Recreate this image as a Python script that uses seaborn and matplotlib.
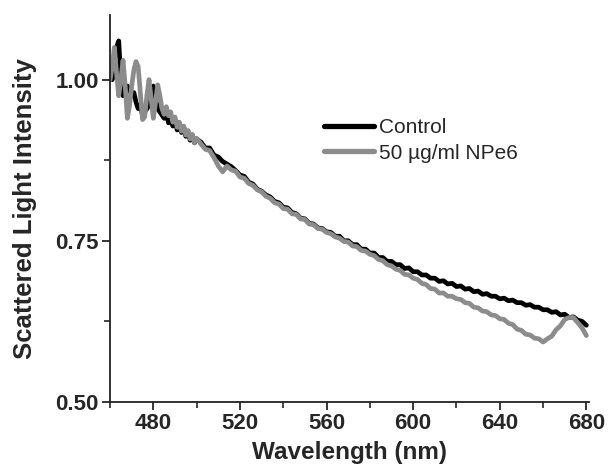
import numpy as np
import pandas as pd
import matplotlib
matplotlib.use("Agg")
import matplotlib.pyplot as plt
import seaborn as sns

# Wavelength grid (nm): 1 nm steps in the noisy blue end, 2 nm afterwards
wavelength = np.concatenate([np.arange(460, 501), np.arange(502, 681, 2)])

control = [
    1.020, 1.000, 1.030, 1.050, 1.060, 1.000, 0.975, 0.980, 0.990, 0.985,
    0.975, 0.980, 0.965, 0.955, 0.960, 0.945, 0.950, 0.955, 0.960, 0.975,
    0.990, 0.970, 0.955, 0.950, 0.945, 0.940, 0.948, 0.933, 0.942, 0.928,
    0.937, 0.922, 0.932, 0.918, 0.927, 0.912, 0.920, 0.906, 0.914, 0.902,
    0.908,
    0.903, 0.894, 0.894, 0.883, 0.880, 0.873, 0.869, 0.865, 0.859, 0.852,
    0.850, 0.841, 0.838, 0.830, 0.827, 0.821, 0.818, 0.811, 0.809, 0.802,
    0.801, 0.794, 0.792, 0.785, 0.784, 0.777, 0.776, 0.770, 0.769, 0.764,
    0.763, 0.757, 0.757, 0.750, 0.750, 0.744, 0.744, 0.737, 0.737, 0.731,
    0.731, 0.724, 0.724, 0.718, 0.718, 0.713, 0.713, 0.707, 0.708, 0.702,
    0.702, 0.697, 0.697, 0.692, 0.692, 0.687, 0.688, 0.683, 0.684, 0.679,
    0.680, 0.675, 0.676, 0.671, 0.672, 0.667, 0.668, 0.664, 0.664, 0.660,
    0.661, 0.657, 0.658, 0.654, 0.654, 0.650, 0.651, 0.647, 0.647, 0.643,
    0.643, 0.639, 0.640, 0.635, 0.636, 0.631, 0.632, 0.627, 0.625, 0.619,
]

npe6 = [
    1.000, 1.020, 1.050, 1.010, 0.975, 1.000, 1.030, 0.990, 0.940, 0.960,
    0.990, 1.015, 1.028, 1.020, 0.980, 0.938, 0.942, 0.975, 1.000, 0.970,
    0.940, 0.965, 0.992, 0.975, 0.955, 0.946, 0.958, 0.944, 0.950, 0.934,
    0.942, 0.926, 0.934, 0.920, 0.928, 0.914, 0.921, 0.908, 0.915, 0.902,
    0.909,
    0.900, 0.892, 0.890, 0.879, 0.866, 0.857, 0.866, 0.860, 0.858, 0.849,
    0.847, 0.839, 0.836, 0.829, 0.826, 0.819, 0.816, 0.809, 0.807, 0.800,
    0.799, 0.792, 0.791, 0.784, 0.783, 0.776, 0.775, 0.769, 0.768, 0.763,
    0.761, 0.756, 0.754, 0.749, 0.748, 0.742, 0.741, 0.735, 0.734, 0.729,
    0.727, 0.721, 0.719, 0.713, 0.711, 0.706, 0.704, 0.698, 0.697, 0.692,
    0.690, 0.684, 0.682, 0.676, 0.675, 0.669, 0.669, 0.664, 0.664, 0.660,
    0.659, 0.654, 0.653, 0.647, 0.646, 0.641, 0.640, 0.635, 0.634, 0.629,
    0.628, 0.622, 0.620, 0.613, 0.611, 0.605, 0.604, 0.599, 0.598, 0.593,
    0.598, 0.602, 0.612, 0.618, 0.628, 0.631, 0.631, 0.623, 0.615, 0.603,
]

series_names = ["Control", "50 \u00b5g/ml NPe6"]
x_ticks = [480, 520, 560, 600, 640, 680]
y_ticks = [0.50, 0.75, 1.00]

df = pd.concat([
    pd.DataFrame({"wl": wavelength, "val": control, "series": series_names[0]}),
    pd.DataFrame({"wl": wavelength, "val": npe6, "series": series_names[1]}),
])

sns.set_style("ticks")
plt.rcParams["font.family"] = ["Liberation Sans", "DejaVu Sans"]

fig = plt.figure(figsize=(6.08, 4.74), dpi=100)
ax = fig.add_axes([0.181, 0.152, 0.787, 0.816])

sns.lineplot(data=df, x="wl", y="val", hue="series",
             palette={series_names[0]: "#000000", series_names[1]: "#8c8c8c"},
             linewidth=3.4, ax=ax, estimator=None, sort=False)

ax.set_xlim(460, 681)
ax.set_ylim(0.50, 1.10)
ax.set_xticks(x_ticks)
ax.set_xticks([460, 500, 540, 580, 620, 660], minor=True)
ax.set_yticks(y_ticks)
ax.set_yticks([0.625, 0.875], minor=True)
ax.set_yticklabels([f"{v:.2f}" for v in y_ticks])

for s in ["top", "right"]:
    ax.spines[s].set_visible(False)
for s in ["left", "bottom"]:
    ax.spines[s].set_linewidth(1.3)
    ax.spines[s].set_color("#222222")

ax.tick_params(axis="both", which="major", direction="out", length=6, width=1.3,
               labelsize=16, pad=2)
ax.tick_params(axis="both", which="minor", direction="out", length=4, width=1.2)
for lab in ax.get_xticklabels() + ax.get_yticklabels():
    lab.set_fontweight("bold")

ax.set_xlabel("Wavelength (nm)", fontsize=17.5, fontweight="bold", labelpad=5)
ax.set_ylabel("Scattered Light Intensity", fontsize=18.5, fontweight="bold", labelpad=13)

leg = ax.legend(loc="upper left", bbox_to_anchor=(0.43, 0.755), frameon=False,
                fontsize=15, handlelength=2.4, handletextpad=0.25,
                labelspacing=0.3, borderaxespad=0)
for line in leg.get_lines():
    line.set_linewidth(3.8)

fig.savefig("out.png", dpi=100)
